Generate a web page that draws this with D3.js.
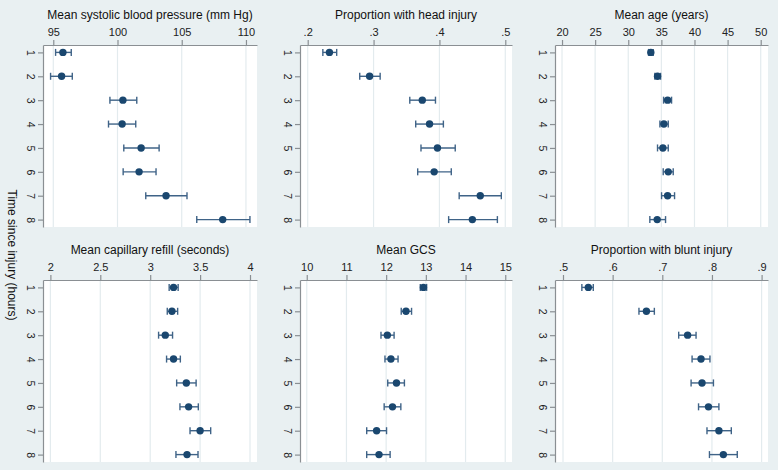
<!DOCTYPE html>
<html><head><meta charset="utf-8">
<script src="https://cdn.jsdelivr.net/npm/d3@7"></script>
<style>
body{margin:0;padding:0;background:#e9f0f2;}
svg{display:block;}
text{font-family:"Liberation Sans",Arial,sans-serif;}
</style></head>
<body>
<svg id="chart" width="778" height="470"></svg>
<script>
const hours = [1,2,3,4,5,6,7,8];

const sbpMean = [95.75,95.65,100.42,100.36,101.84,101.68,103.78,108.19];
const sbpLo   = [95.18,94.79,99.41,99.30,100.49,100.44,102.20,106.17];
const sbpHi   = [96.40,96.48,101.50,101.42,103.24,103.00,105.41,110.31];
const sbpTicks = [95,100,105,110];
const sbpLabels = ["95","100","105","110"];

const headMean = [0.233,0.294,0.374,0.385,0.397,0.392,0.462,0.450];
const headLo   = [0.223,0.279,0.355,0.364,0.372,0.367,0.430,0.414];
const headHi   = [0.244,0.310,0.394,0.406,0.424,0.418,0.494,0.488];
const headTicks = [0.2,0.3,0.4,0.5];
const headLabels = [".2",".3",".4",".5"];

const ageMean = [33.41,34.42,35.94,35.38,35.23,36.04,35.94,34.37];
const ageLo   = [33.06,34.02,35.33,34.78,34.42,35.28,35.03,33.26];
const ageHi   = [33.77,34.88,36.54,36.04,36.04,36.79,36.99,35.63];
const ageTicks = [20,25,30,35,40,45,50];
const ageLabels = ["20","25","30","35","40","45","50"];

const capMean = [3.234,3.218,3.151,3.234,3.362,3.385,3.500,3.369];
const capLo   = [3.190,3.171,3.084,3.164,3.265,3.298,3.399,3.258];
const capHi   = [3.280,3.275,3.224,3.302,3.460,3.482,3.606,3.479];
const capTicks = [2,2.5,3,3.5,4];
const capLabels = ["2","2.5","3","3.5","4"];

const gcsMean = [12.94,12.50,12.03,12.12,12.26,12.16,11.76,11.82];
const gcsLo   = [12.86,12.38,11.87,11.97,12.04,11.95,11.51,11.51];
const gcsHi   = [13.02,12.64,12.20,12.30,12.46,12.37,12.01,12.10];
const gcsTicks = [10,11,12,13,14,15];
const gcsLabels = ["10","11","12","13","14","15"];

const bluntMean = [0.551,0.668,0.751,0.778,0.780,0.793,0.814,0.823];
const bluntLo   = [0.538,0.653,0.733,0.760,0.758,0.773,0.790,0.795];
const bluntHi   = [0.561,0.684,0.768,0.796,0.803,0.814,0.839,0.851];
const bluntTicks = [0.5,0.6,0.7,0.8,0.9];
const bluntLabels = [".5",".6",".7",".8",".9"];

const yTitle = "Time since injury (hours)";

const panels = [
  {title:"Mean systolic blood pressure (mm Hg)", mean:sbpMean, lo:sbpLo, hi:sbpHi, ticks:sbpTicks, labels:sbpLabels, dom:[94.2,110.86], col:0, row:0},
  {title:"Proportion with head injury", mean:headMean, lo:headLo, hi:headHi, ticks:headTicks, labels:headLabels, dom:[0.1883,0.5102], col:1, row:0},
  {title:"Mean age (years)", mean:ageMean, lo:ageLo, hi:ageHi, ticks:ageTicks, labels:ageLabels, dom:[18.94,51.1], col:2, row:0},
  {title:"Mean capillary refill (seconds)", mean:capMean, lo:capLo, hi:capHi, ticks:capTicks, labels:capLabels, dom:[1.926,4.07], col:0, row:1},
  {title:"Mean GCS", mean:gcsMean, lo:gcsLo, hi:gcsHi, ticks:gcsTicks, labels:gcsLabels, dom:[9.83,15.17], col:1, row:1},
  {title:"Proportion with blunt injury", mean:bluntMean, lo:bluntLo, hi:bluntHi, ticks:bluntTicks, labels:bluntLabels, dom:[0.4839,0.9129], col:2, row:1}
];

const colX = [[43,257],[300,512],[555,768]];
const rowY = [[45,227],[280,462]];

const svg = d3.select("#chart");
svg.append("rect").attr("width",778).attr("height",470).attr("fill","#e9f0f2");

const axisCol = "#8a8f93";
const barCol = "#3f6387";
const dotCol = "#1a476f";

panels.forEach(p => {
  const [x0,x1] = colX[p.col];
  const [y0,y1] = rowY[p.row];
  const x = d3.scaleLinear().domain(p.dom).range([x0,x1]);
  const y = d3.scalePoint().domain(hours).range([y0,y1]).padding(0.31);
  const g = svg.append("g");

  g.append("rect").attr("x",x0).attr("y",y0).attr("width",x1-x0).attr("height",y1-y0).attr("fill","#ffffff");
  g.selectAll(".grid").data(p.ticks).enter().append("line")
    .attr("x1",d=>x(d)).attr("x2",d=>x(d)).attr("y1",y0).attr("y2",y1)
    .attr("stroke","#e3ebee").attr("stroke-width",1.2);

  const xa = g.append("g").attr("transform",`translate(0,${y0})`)
    .call(d3.axisTop(x).tickValues(p.ticks).tickFormat((d,i)=>p.labels[i]).tickSize(5).tickSizeOuter(0).tickPadding(4));
  xa.select(".domain").attr("stroke",axisCol).attr("stroke-width",1.2);
  xa.selectAll(".tick line").attr("stroke",axisCol).attr("stroke-width",1.2);
  xa.selectAll(".tick text").attr("font-size","11px").attr("fill","#222");

  const ya = g.append("g").attr("transform",`translate(${x0},0)`)
    .call(d3.axisLeft(y).tickSize(5).tickSizeOuter(0));
  ya.select(".domain").attr("stroke",axisCol).attr("stroke-width",1.2);
  ya.selectAll(".tick line").attr("stroke",axisCol).attr("stroke-width",1.2);
  ya.selectAll(".tick text").attr("font-size","10.5px").attr("fill","#222")
    .attr("x",0).attr("dy",null).attr("text-anchor","middle")
    .attr("dominant-baseline","central")
    .attr("transform","translate(-12,0) rotate(90)");

  g.append("text").attr("x",(x0+x1)/2).attr("y",y0-26).attr("text-anchor","middle")
    .attr("font-size","12px").attr("fill","#111").text(p.title);

  const idx = d3.range(hours.length);
  const cap = 3.5;
  g.selectAll(".bar").data(idx).enter().append("line")
    .attr("x1",i=>x(p.lo[i])).attr("x2",i=>x(p.hi[i]))
    .attr("y1",i=>y(hours[i])).attr("y2",i=>y(hours[i]))
    .attr("stroke",barCol).attr("stroke-width",1.4);
  ["lo","hi"].forEach(k=>{
    g.selectAll(".cap"+k).data(idx).enter().append("line")
      .attr("x1",i=>x(p[k][i])).attr("x2",i=>x(p[k][i]))
      .attr("y1",i=>y(hours[i])-cap).attr("y2",i=>y(hours[i])+cap)
      .attr("stroke",barCol).attr("stroke-width",1.4);
  });
  g.selectAll(".dot").data(idx).enter().append("circle")
    .attr("cx",i=>x(p.mean[i])).attr("cy",i=>y(hours[i])).attr("r",3.7)
    .attr("fill",dotCol);
});

svg.append("text").attr("transform","translate(12,255) rotate(90)")
  .attr("text-anchor","middle").attr("dominant-baseline","central")
  .attr("font-size","12px").attr("fill","#111").text(yTitle);
</script>
</body></html>
